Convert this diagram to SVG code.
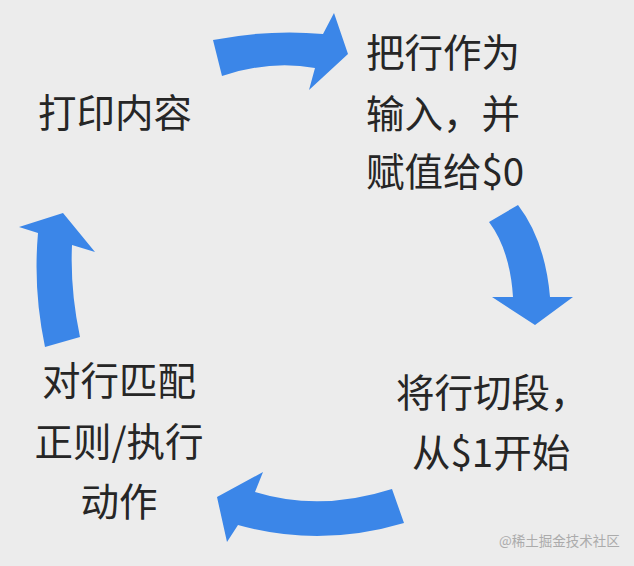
<svg xmlns="http://www.w3.org/2000/svg" width="634" height="566" viewBox="0 0 634 566">
  <style>
    .bg { fill: #ececec; }
    .arrow { fill: #3b86e8; }
    .label { font-family: "Noto Sans CJK SC", "Noto Sans", "Liberation Sans", sans-serif; font-size: 38.5px; fill: #262626; }
    .wm { font-family: "Noto Sans CJK SC", "Noto Sans", sans-serif; font-size: 13.5px; fill: #ababab; }
  </style>
  <rect class="bg" x="0" y="0" width="634" height="566"/>
  <g id="connectors">
    <path id="arrow-top" class="arrow" d="M 213 40 Q 270 29 323 34 L 334 13 L 348 54 L 309 90 L 315 68 Q 270 60 222 76 Z"/>
    <path id="arrow-right" class="arrow" d="M 489 222 L 518 205 Q 545 240 550 297 L 573 297 L 535 325 L 492 297 L 513 297 Q 510 250 489 222 Z"/>
    <path id="arrow-bottom" class="arrow" d="M 392 489 L 404 523 Q 320 548 238 525 L 227 542 L 217 497 L 263 472 L 255 492 Q 320 512 392 489 Z"/>
    <path id="arrow-left" class="arrow" d="M 45 347 L 80 337 Q 70 290 72 245 L 95 252 L 63 213 L 19 227 L 38 233 Q 33 290 45 347 Z"/>
  </g>
  <g id="node-input">
    <text class="label" x="366" y="67">把行作为</text>
    <text class="label" x="366" y="128">输入，并</text>
    <text class="label" x="366" y="186">赋值给$0</text>
  </g>
  <g id="node-split">
    <text class="label" x="396" y="407">将行切段，</text>
    <text class="label" x="412" y="467">从$1开始</text>
  </g>
  <g id="node-match">
    <text class="label" x="119" y="395" text-anchor="middle">对行匹配</text>
    <text class="label" x="119" y="456" text-anchor="middle">正则/执行</text>
    <text class="label" x="119" y="516" text-anchor="middle">动作</text>
  </g>
  <g id="node-print">
    <text class="label" x="38" y="127">打印内容</text>
  </g>
  <text class="wm" x="499" y="546">@稀土掘金技术社区</text>
</svg>
